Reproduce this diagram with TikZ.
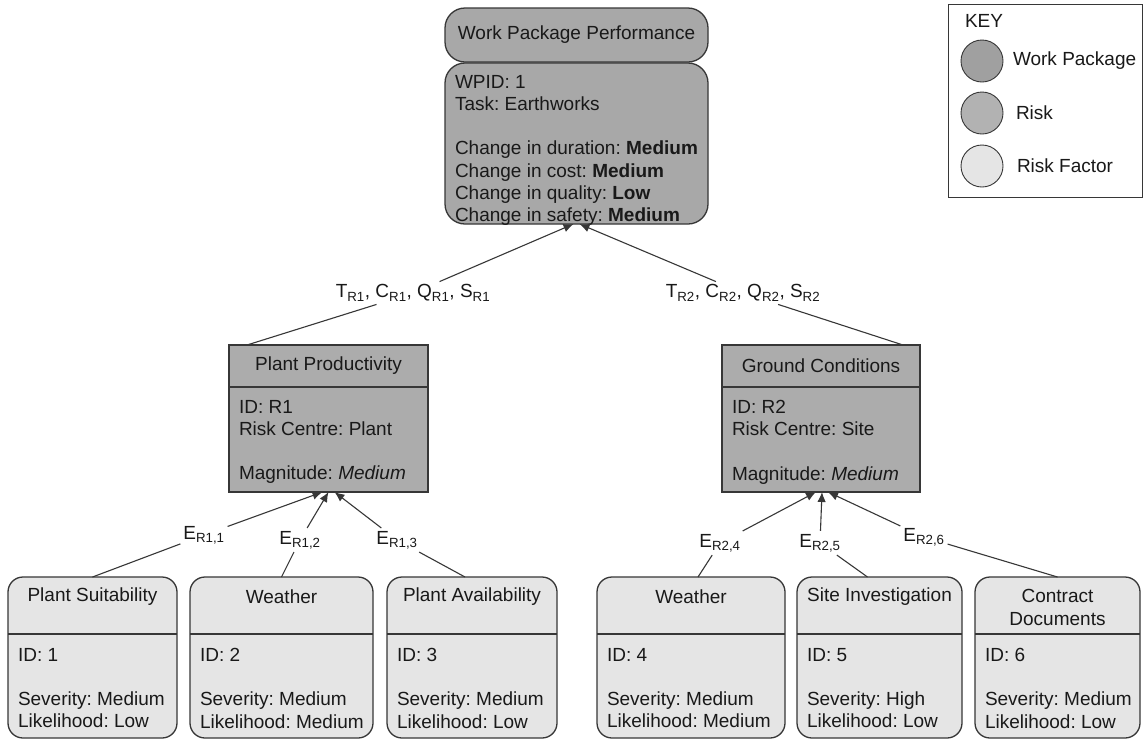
\documentclass[tikz,border=0pt]{standalone}
\usepackage{fontspec}
\setmainfont{Liberation Sans}
\usetikzlibrary{arrows.meta}
\definecolor{wpfill}{RGB}{168,168,168}
\definecolor{riskfill}{RGB}{172,172,172}
\definecolor{rffill}{RGB}{229,229,229}
\definecolor{edgecol}{RGB}{55,55,55}
\definecolor{keywp}{RGB}{160,160,160}
\definecolor{keyrisk}{RGB}{178,178,178}
\definecolor{txt}{RGB}{25,25,25}
\frenchspacing
\begin{document}
\begin{tikzpicture}[x=1pt,y=-1pt,
  every node/.style={font=\fontsize{19}{22.3}\selectfont, text=txt, outer sep=0pt},
  box/.style={draw=edgecol, line width=1.3pt, anchor=north west, inner sep=0pt},
  wpbox/.style={box, fill=wpfill, rounded corners=20pt},
  riskbox/.style={box, fill=riskfill},
  rfbox/.style={box, fill=rffill, rounded corners=15pt},
  title/.style={anchor=center, inner sep=0pt, align=center},
  body/.style={anchor=north west, inner sep=0pt, align=left},
  divider/.style={draw=edgecol, line width=1.3pt},
  lab/.style={inner sep=3pt},
  conn/.style={draw=edgecol, line width=1.1pt},
  arr/.style={conn, -{Latex[length=10pt,width=8.5pt]}},
  keycirc/.style={circle, draw=edgecol, line width=0.9pt, minimum size=42pt, inner sep=0pt},
  keytxt/.style={anchor=west, inner sep=0pt},
]
\fill[white] (0,0) rectangle (1144,740);
\useasboundingbox (0,0) rectangle (1144,740);

% ---------- Work package ----------
\node[wpbox, minimum width=263pt, minimum height=54pt] (wphead) at (445,8) {};
\node[title] (wpheadt) at (wphead.center) {Work Package Performance};
\node[wpbox, minimum width=263pt, minimum height=161pt] (wpbody) at (445,63) {};
\node[body] (wpbodyt) at ([xshift=10pt,yshift=-12pt]wpbody.north west)
  {WPID: 1\\Task: Earthworks\\[22.3pt]Change in duration: \textbf{Medium}\\Change in cost: \textbf{Medium}\\Change in quality: \textbf{Low}\\Change in safety: \textbf{Medium}};

% ---------- Key ----------
\node[draw=edgecol, line width=0.9pt, minimum width=194pt, minimum height=193pt, anchor=north west, inner sep=0pt] (key) at (948,4) {};
\node[keytxt] (keyt) at (965,21) {KEY};
\node[keycirc, fill=keywp] (kc1) at (982,61) {};
\node[keytxt] (kt1) at (1013,61) {Work Package};
\node[keycirc, fill=keyrisk] (kc2) at (982,113) {};
\node[keytxt] (kt2) at (1016,113) {Risk};
\node[keycirc, fill=rffill] (kc3) at (982,166) {};
\node[keytxt] (kt3) at (1017,166) {Risk Factor};

% ---------- Risks ----------
\node[riskbox, minimum width=199pt, minimum height=147pt] (pp) at (229,345) {};
\draw[divider] ([yshift=-42pt]pp.north west) -- ([yshift=-42pt]pp.north east);
\node[title] (ppt) at ([yshift=-21pt]pp.north) {Plant Productivity};
\node[body] (ppb) at ([xshift=10pt,yshift=-55pt]pp.north west)
  {ID: R1\\Risk Centre: Plant\\[22.3pt]Magnitude: \textit{Medium}};

\node[riskbox, minimum width=198pt, minimum height=147pt] (gc) at (722,345) {};
\draw[divider] ([yshift=-42pt]gc.north west) -- ([yshift=-42pt]gc.north east);
\node[title] (gct) at ([yshift=-21pt]gc.north) {Ground Conditions};
\node[body] (gcb) at ([xshift=10pt,yshift=-55pt]gc.north west)
  {ID: R2\\Risk Centre: Site\\[22.3pt]Magnitude: \textit{Medium}};

% ---------- Risk factors ----------
\node[rfbox, minimum width=169pt, minimum height=161pt] (rf1) at (8,577) {};
\node[rfbox, minimum width=183pt, minimum height=161pt] (rf2) at (190,577) {};
\node[rfbox, minimum width=170pt, minimum height=161pt] (rf3) at (387,577) {};
\node[rfbox, minimum width=188pt, minimum height=161pt] (rf4) at (597,577) {};
\node[rfbox, minimum width=165pt, minimum height=161pt] (rf5) at (797,577) {};
\node[rfbox, minimum width=165pt, minimum height=161pt] (rf6) at (975,577) {};
\foreach \r in {rf1,rf2,rf3,rf4,rf5,rf6}{
  \draw[divider] ([yshift=-57pt]\r.north west) -- ([yshift=-57pt]\r.north east);
}
\node[title] (rf1t) at ([yshift=-20pt]rf1.north) {Plant Suitability};
\node[title] (rf2t) at ([yshift=-20pt]rf2.north) {Weather};
\node[title] (rf3t) at ([yshift=-20pt]rf3.north) {Plant Availability};
\node[title] (rf4t) at ([yshift=-20pt]rf4.north) {Weather};
\node[title] (rf5t) at ([yshift=-20pt]rf5.north) {Site Investigation};
\node[title] (rf6t) at ([yshift=-30.5pt]rf6.north) {Contract\\Documents};

\node[body] (rf1b) at ([xshift=10pt,yshift=-71pt]rf1.north west) {ID: 1\\[22.3pt]Severity: Medium\\Likelihood: Low};
\node[body] (rf2b) at ([xshift=10pt,yshift=-71pt]rf2.north west) {ID: 2\\[22.3pt]Severity: Medium\\Likelihood: Medium};
\node[body] (rf3b) at ([xshift=10pt,yshift=-71pt]rf3.north west) {ID: 3\\[22.3pt]Severity: Medium\\Likelihood: Low};
\node[body] (rf4b) at ([xshift=10pt,yshift=-71pt]rf4.north west) {ID: 4\\[22.3pt]Severity: Medium\\Likelihood: Medium};
\node[body] (rf5b) at ([xshift=10pt,yshift=-71pt]rf5.north west) {ID: 5\\[22.3pt]Severity: High\\Likelihood: Low};
\node[body] (rf6b) at ([xshift=10pt,yshift=-71pt]rf6.north west) {ID: 6\\[22.3pt]Severity: Medium\\Likelihood: Low};

% ---------- Edge labels ----------
\node[lab] (l1) at (413,293) {T\textsubscript{R1}, C\textsubscript{R1}, Q\textsubscript{R1}, S\textsubscript{R1}};
\node[lab] (l2) at (743,293) {T\textsubscript{R2}, C\textsubscript{R2}, Q\textsubscript{R2}, S\textsubscript{R2}};
\node[lab] (e11) at (204,535) {E\textsubscript{R1,1}};
\node[lab] (e12) at (300,540) {E\textsubscript{R1,2}};
\node[lab] (e13) at (397,540) {E\textsubscript{R1,3}};
\node[lab] (e24) at (720,543) {E\textsubscript{R2,4}};
\node[lab] (e25) at (820,543) {E\textsubscript{R2,5}};
\node[lab] (e26) at (924,537) {E\textsubscript{R2,6}};

% ---------- Connectors ----------
\draw[conn] ([xshift=18pt]pp.north west) -- (l1);
\draw[arr] (l1) -- ([xshift=-3pt]wpbody.south);
\draw[conn] ([xshift=-17pt]gc.north east) -- (l2);
\draw[arr] (l2) -- ([xshift=3pt]wpbody.south);

\draw[conn] (rf1.north) -- (e11);
\draw[arr] (e11) -- ([xshift=-6pt]pp.south);
\draw[conn] (rf2.north) -- (e12);
\draw[arr] (e12) -- (pp.south);
\draw[conn] ([xshift=-7pt]rf3.north) -- (e13);
\draw[arr] (e13) -- ([xshift=6pt]pp.south);

\draw[conn] ([xshift=7pt]rf4.north) -- (e24);
\draw[arr] (e24) -- ([xshift=-5pt]gc.south);
\draw[conn] ([xshift=-12pt]rf5.north) -- (e25);
\draw[arr] (e25) -- ([xshift=1pt]gc.south);
\draw[conn] (rf6.north) -- (e26);
\draw[arr] (e26) -- ([xshift=7pt]gc.south);
\end{tikzpicture}
\end{document}
